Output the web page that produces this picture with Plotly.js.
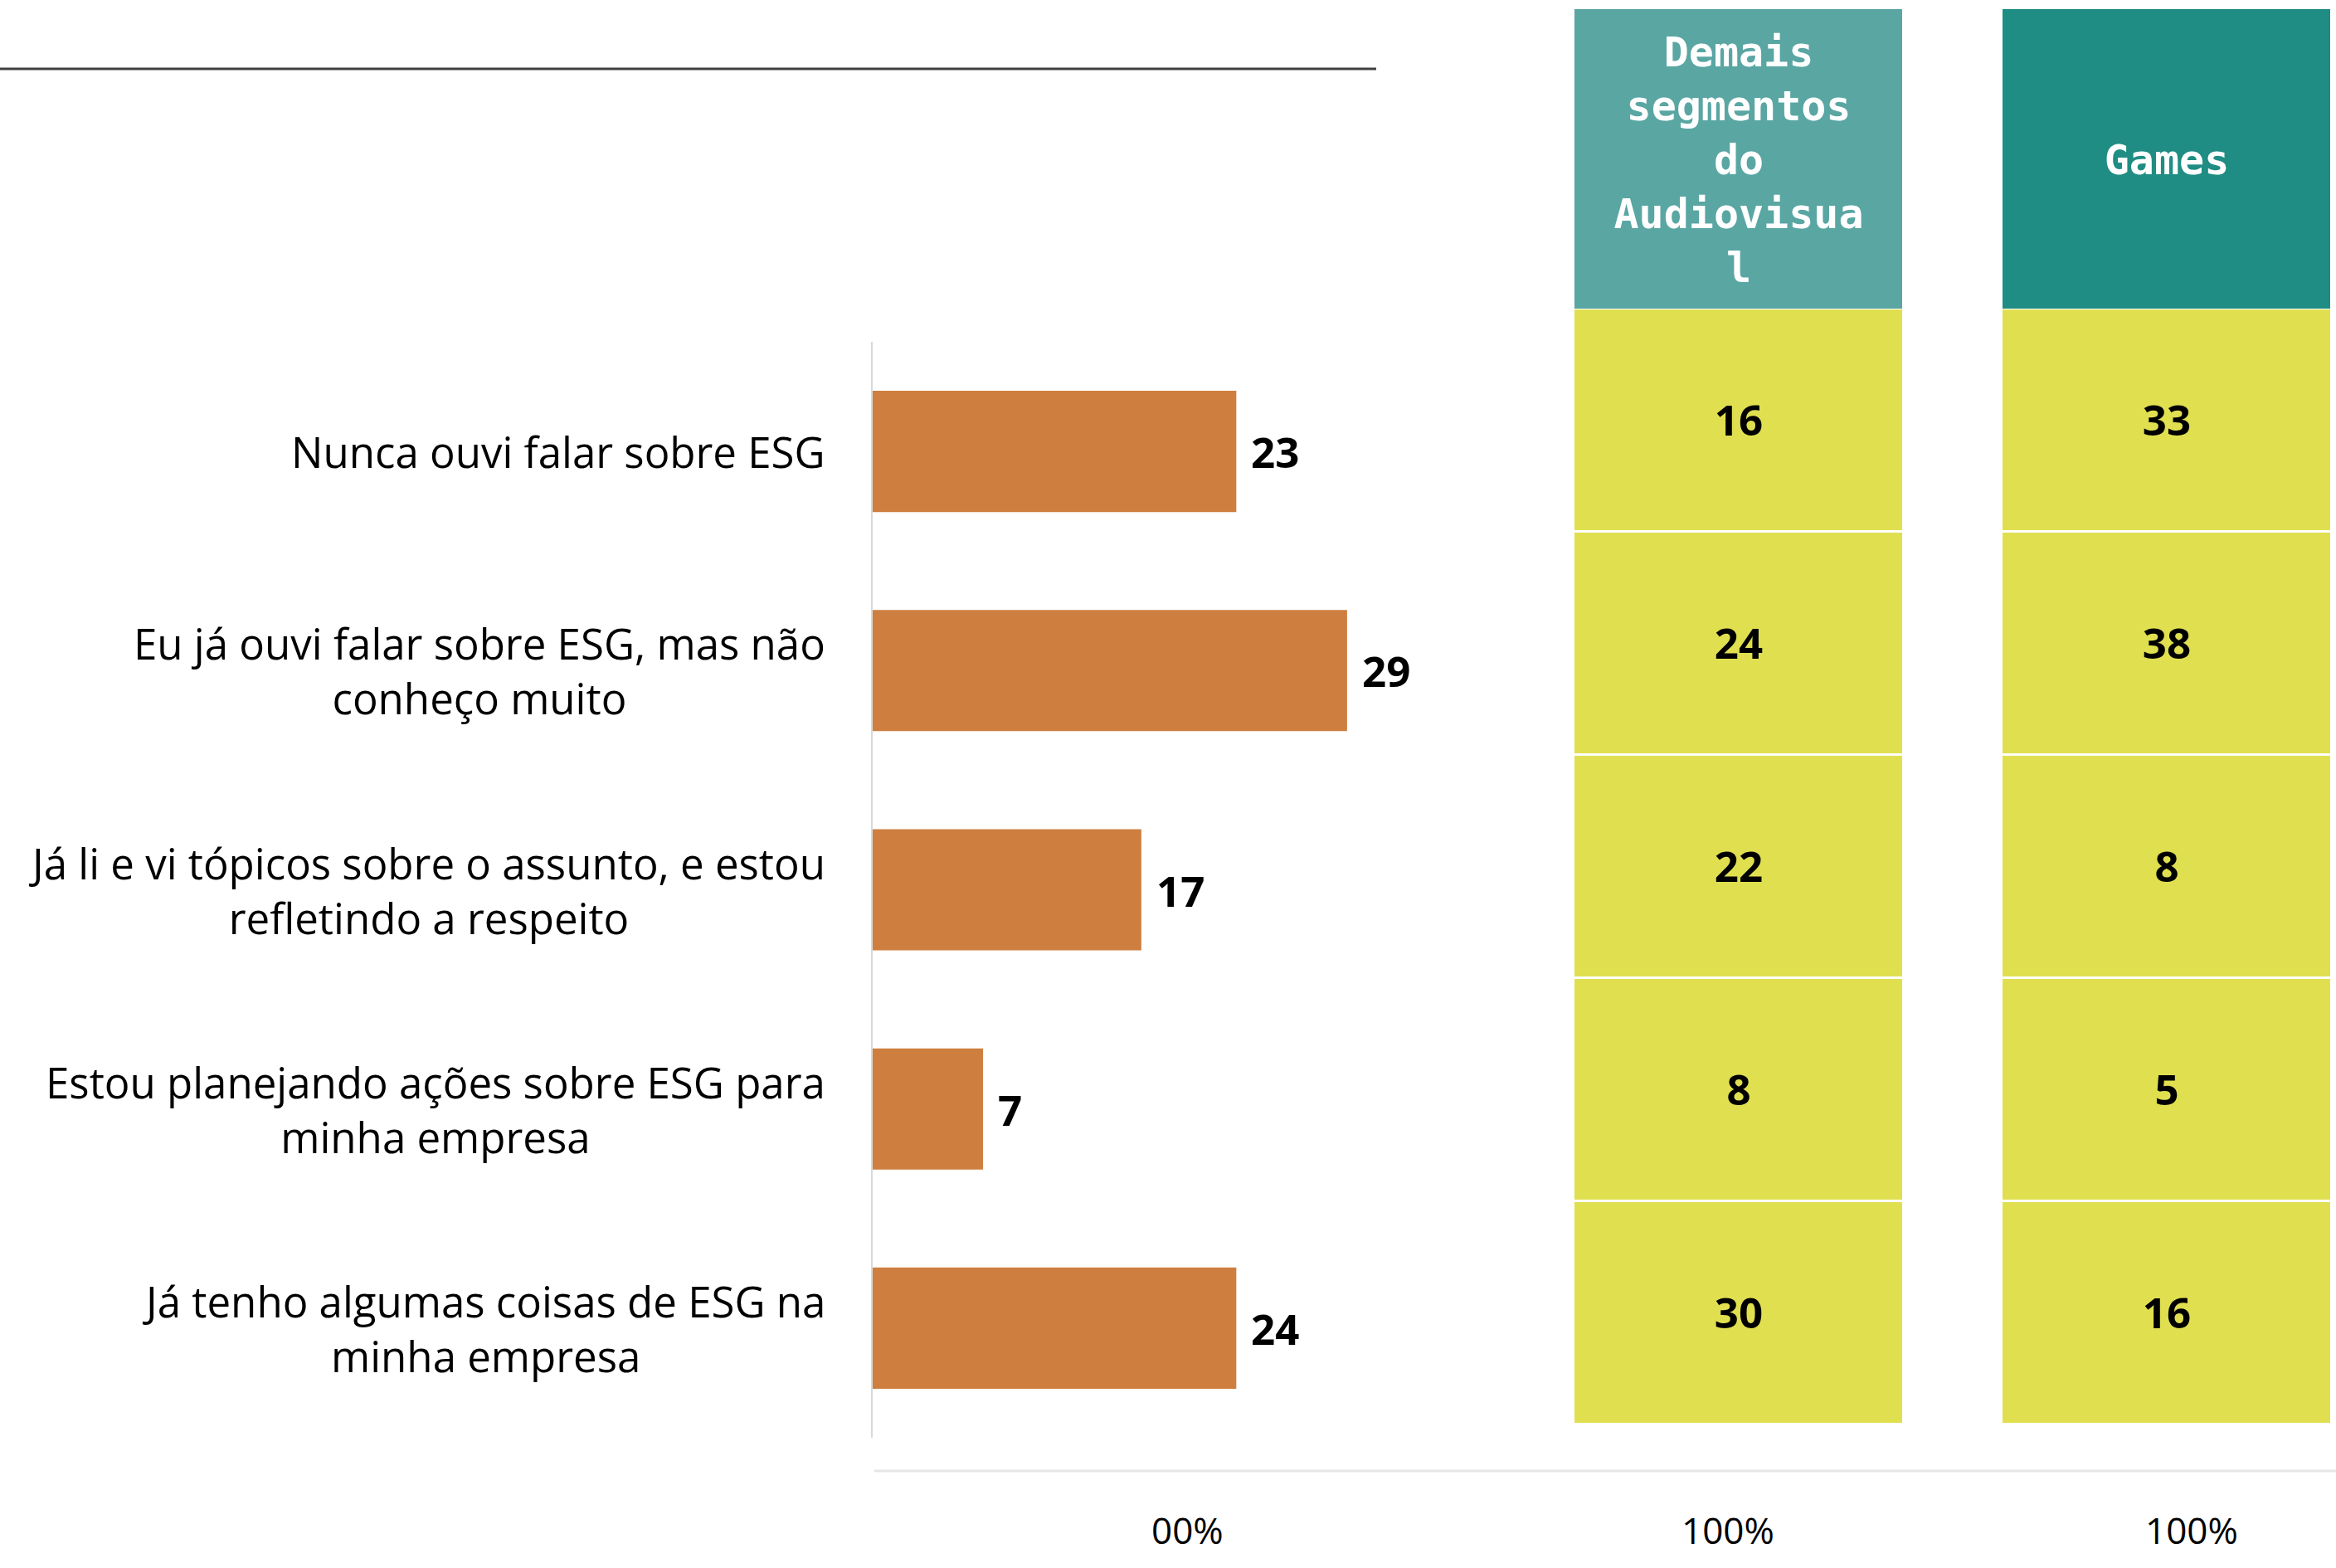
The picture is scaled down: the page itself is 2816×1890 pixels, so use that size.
<!DOCTYPE html>
<html>
<head>
<meta charset="utf-8">
<script src="https://cdn.plot.ly/plotly-3.0.1.min.js"></script>
<style>html,body{margin:0;padding:0;background:#fff;}#chart{width:2816px;height:1890px;}</style>
</head>
<body>
<div id="chart"></div>
<script>
// ---- data ----
const categories = [
  'Nunca ouvi falar sobre ESG',
  'Eu já ouvi falar sobre ESG, mas não<br>conheço muito',
  'Já li e vi tópicos sobre o assunto, e estou<br>refletindo a respeito',
  'Estou planejando ações sobre ESG para<br>minha empresa',
  'Já tenho algumas coisas de ESG na<br>minha empresa'
];
const barValues = [23, 30, 17, 7, 23];          // bar lengths as drawn
const barLabels = ['23', '29', '17', '7', '24']; // values printed next to bars
const tableHeaders = ['Demais<br>segmentos<br>do<br>Audiovisua<br>l', 'Games'];
const demaisValues = [16, 24, 22, 8, 30];
const gamesValues = [33, 38, 8, 5, 16];
const footerLabels = ['00%', '100%', '100%'];

// ---- styles ----
const W = 2816, H = 1890;
const px = v => v / W, py = v => 1 - v / H;
const barColor = '#CE7F3F';
const yellow = '#E0DF50';
const headerColors = ['#59A6A3', '#1F8D83'];
const labelFont = {family: 'Open Sans, Noto Sans, sans-serif', size: 51, color: '#000'};
const numFont = {family: 'Open Sans, Noto Sans, sans-serif', size: 51, color: '#000', weight: 700};
const headFont = {family: 'DejaVu Sans Mono, monospace', size: 50, color: '#fff', weight: 700};

const traces = [];
traces.push({
  type: 'bar', orientation: 'h', x: barValues, y: categories,
  marker: {color: barColor, line: {width: 0}}, width: 0.553,
  hoverinfo: 'skip', xaxis: 'x', yaxis: 'y'
});

const tableVals = [demaisValues, gamesValues];
['x2', 'x3'].forEach((xa, i) => {
  traces.push({
    type: 'heatmap', x: [tableHeaders[i]], y: categories,
    z: tableVals[i].map(v => [v]),
    colorscale: [[0, yellow], [1, yellow]], showscale: false,
    ygap: 3, texttemplate: '%{z}', textfont: numFont,
    hoverinfo: 'skip', xaxis: xa, yaxis: 'y2'
  });
  traces.push({
    type: 'heatmap', x: [tableHeaders[i]], y: ['h'],
    z: [[1]], text: [[tableHeaders[i]]],
    colorscale: [[0, headerColors[i]], [1, headerColors[i]]], showscale: false,
    texttemplate: '%{text}', textfont: headFont,
    hoverinfo: 'skip', xaxis: xa, yaxis: 'y3'
  });
});

const annotations = [];
categories.forEach((c, i) => {
  annotations.push({
    xref: 'paper', yref: 'y', x: px(997), y: c, text: c,
    xanchor: 'right', yanchor: 'middle', align: 'center',
    showarrow: false, font: labelFont
  });
  annotations.push({
    xref: 'x', yref: 'y', x: barValues[i], y: c, text: barLabels[i],
    xanchor: 'left', yanchor: 'middle', xshift: 16, yshift: 0,
    showarrow: false, font: numFont
  });
});
const footerX = [1431, 2083, 2642];
footerLabels.forEach((t, i) => {
  annotations.push({
    xref: 'paper', yref: 'paper', x: px(footerX[i]), y: py(1844), text: t,
    xanchor: 'center', yanchor: 'middle', showarrow: false,
    font: {family: 'Open Sans, sans-serif', size: 44, color: '#000'}
  });
});

const hidden = {showgrid: false, zeroline: false, showticklabels: false, ticks: '', fixedrange: true};
const layout = {
  width: W, height: H, margin: {l: 0, r: 0, t: 0, b: 0},
  paper_bgcolor: '#fff', plot_bgcolor: 'rgba(0,0,0,0)', showlegend: false,
  xaxis: Object.assign({}, hidden, {domain: [px(1051.5), px(1051.5 + 35 * 19.08)], range: [0, 35], anchor: 'y'}),
  yaxis: Object.assign({}, hidden, {domain: [py(1733), py(412)], autorange: 'reversed', anchor: 'x',
    showline: true, linecolor: '#D9D9D9', linewidth: 2}),
  xaxis2: Object.assign({}, hidden, {domain: [px(1898), px(2293)], anchor: 'y2'}),
  xaxis3: Object.assign({}, hidden, {domain: [px(2414), px(2809)], anchor: 'y2'}),
  yaxis2: Object.assign({}, hidden, {domain: [py(1717), py(372)], autorange: 'reversed', anchor: 'x2'}),
  yaxis3: Object.assign({}, hidden, {domain: [py(372), py(11)], anchor: 'x2'}),
  annotations: annotations,
  shapes: [
    {type: 'line', xref: 'paper', yref: 'paper', x0: 0, x1: px(1659), y0: py(83), y1: py(83),
     line: {color: '#404040', width: 3}},
    {type: 'line', xref: 'paper', yref: 'paper', x0: px(1054), x1: 1, y0: py(1773), y1: py(1773),
     line: {color: '#E6E6E6', width: 3}}
  ]
};
Plotly.newPlot('chart', traces, layout, {staticPlot: true, displayModeBar: false});
</script>
</body>
</html>
